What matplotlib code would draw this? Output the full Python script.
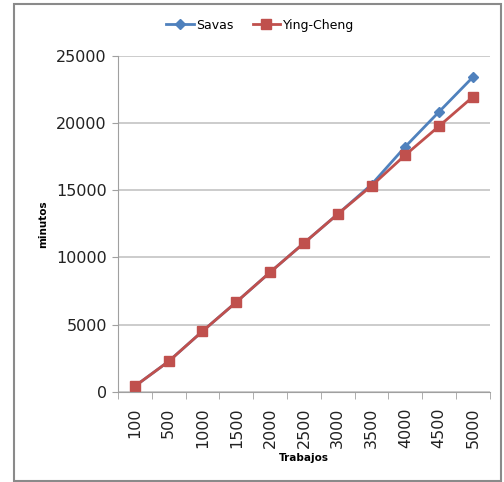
import numpy as np
from matplotlib import pyplot as plt
from matplotlib.patches import Rectangle

# Tiempo de ejecucion (minutos) por numero de trabajos
trabajos = ["100", "500", "1000", "1500", "2000", "2500", "3000", "3500", "4000", "4500", "5000"]
savas = [420, 2270, 4510, 6680, 8900, 11070, 13230, 15430, 18250, 20850, 23430]
ying_cheng = [420, 2270, 4510, 6680, 8900, 11070, 13230, 15330, 17630, 19780, 21960]

blue = "#4F81BD"
red = "#C0504D"

fig = plt.figure(figsize=(5.04, 4.82), dpi=100)
ax = fig.add_axes([0.234, 0.187, 0.738, 0.697])

x = np.arange(len(trabajos))
ax.plot(x, savas, color=blue, marker="D", markersize=5.2, linewidth=2, label="Savas")
ax.plot(x, ying_cheng, color=red, marker="s", markersize=7.5, linewidth=2, label="Ying-Cheng")

ax.set_xlim(-0.5, len(trabajos) - 0.5)
ax.set_ylim(0, 25000)
ax.set_yticks(np.arange(0, 25001, 5000))
ax.tick_params(axis="y", labelsize=11.5, length=4, color="#a0a0a0", labelcolor="#222222", pad=4)

# ticks on x axis sit between categories, labels at category centres
ax.set_xticks(x)
ax.set_xticklabels(trabajos, rotation=90, fontsize=11.5, color="#222222")
ax.set_xticks(np.arange(-0.5, len(trabajos), 1), minor=True)
ax.tick_params(axis="x", which="major", length=0, pad=11)
ax.tick_params(axis="x", which="minor", length=5, color="#a0a0a0")

ax.grid(axis="y", color="#c4c4c4", linewidth=1.2)
ax.set_axisbelow(True)
for side in ["top", "right"]:
    ax.spines[side].set_visible(False)
ax.spines["left"].set_color("#a0a0a0")
ax.spines["bottom"].set_color("#a0a0a0")

ax.set_xlabel("Trabajos", fontsize=7.5, fontweight="bold", labelpad=4)
ax.set_ylabel("minutos", fontsize=7.5, fontweight="bold", labelpad=6)

fig.legend(loc="center", bbox_to_anchor=(0.516, 0.948), ncol=2, frameon=False,
           fontsize=9, handlelength=2.2, columnspacing=1.5, handletextpad=0.2)

# marco gris alrededor del grafico
fig.patches.append(Rectangle((14 / 504, 1 / 482), 487 / 504, 477 / 482, transform=fig.transFigure,
                             fill=False, edgecolor="#8a8a8a", linewidth=1.5))

fig.savefig("out.png", dpi=100)
